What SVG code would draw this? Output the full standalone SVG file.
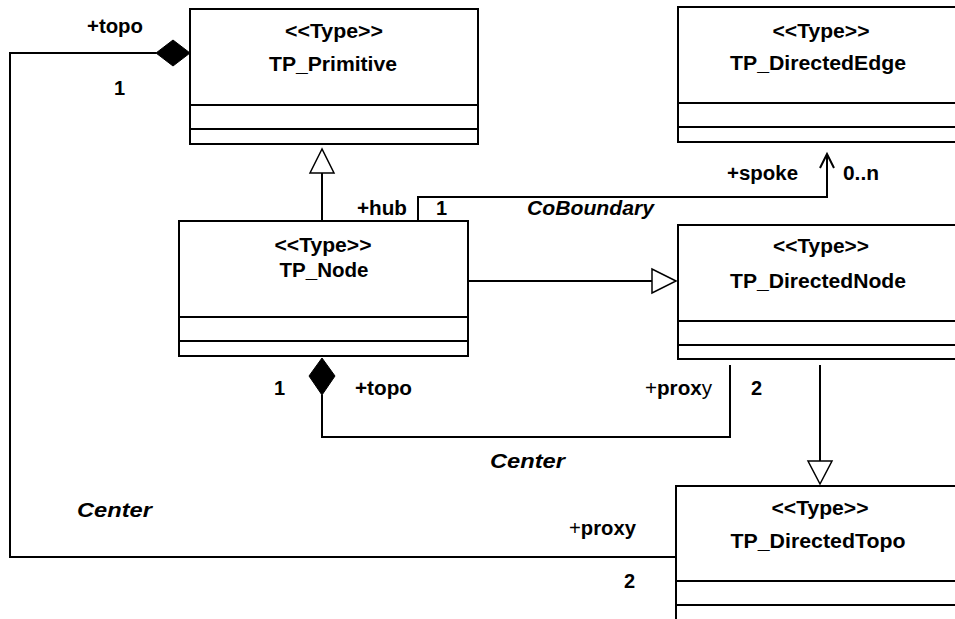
<svg xmlns="http://www.w3.org/2000/svg" width="955" height="619" viewBox="0 0 955 619">
<style>
  .box { fill: #ffffff; stroke: #000000; stroke-width: 2; }
  .div { stroke: #000000; stroke-width: 2; }
  .ln { fill: none; stroke: #000000; stroke-width: 2; }
  .hollow { fill: #ffffff; stroke: #000000; stroke-width: 1.5; }
  .solid { fill: #000000; stroke: #000000; stroke-width: 1; }
  text { font-family: "Liberation Sans", Arial, sans-serif; font-size: 20px; fill: #000000; }
  .b { font-weight: bold; }
  .n { font-weight: normal; }
  .it { font-weight: bold; font-style: italic; font-size: 21px; }
  .c { text-anchor: middle; }
</style>
<rect width="955" height="619" fill="#ffffff"/>

<g id="connectors">
  <polyline class="ln" points="156,53 10,53 10,557 676,557"/>
  <polygon class="solid" points="190,53 173,40 156,53 173,66"/>
  <line class="ln" x1="322" y1="221" x2="322" y2="173"/>
  <polygon class="hollow" points="322,149 310,173 334,173"/>
  <polyline class="ln" points="418,221 418,197 827,197 827,155"/>
  <polyline class="ln" points="820,168 827,154 834,168"/>
  <line class="ln" x1="468" y1="281" x2="652" y2="281"/>
  <polygon class="hollow" points="676,281 652,269 652,293"/>
  <polygon class="solid" points="322,358 335,376 322,395 309,376"/>
  <polyline class="ln" points="322,395 322,437 730,437 730,365"/>
  <line class="ln" x1="820" y1="365" x2="820" y2="461"/>
  <polygon class="hollow" points="820,484 808,461 832,461"/>

  <text class="b" x="87" y="33" textLength="56" lengthAdjust="spacingAndGlyphs">+topo</text>
  <text class="b" x="114" y="95">1</text>
  <text class="b" x="727" y="180" textLength="71" lengthAdjust="spacingAndGlyphs">+spoke</text>
  <text class="b" x="843" y="180" textLength="36" lengthAdjust="spacingAndGlyphs">0..n</text>
  <text class="b" x="357" y="215" textLength="50" lengthAdjust="spacingAndGlyphs">+hub</text>
  <text class="b" x="436" y="215">1</text>
  <text class="it" x="527" y="215" textLength="127" lengthAdjust="spacingAndGlyphs">CoBoundary</text>
  <text x="645" y="395" textLength="67" lengthAdjust="spacingAndGlyphs"><tspan class="n">+</tspan><tspan class="b">prox</tspan><tspan class="n">y</tspan></text>
  <text class="b" x="751" y="395">2</text>
  <text class="b" x="274" y="395">1</text>
  <text class="b" x="355" y="395" textLength="57" lengthAdjust="spacingAndGlyphs">+topo</text>
  <text class="it" x="490" y="468" textLength="75" lengthAdjust="spacingAndGlyphs">Center</text>
  <text class="it" x="77" y="517" textLength="75" lengthAdjust="spacingAndGlyphs">Center</text>
  <text x="569" y="535" textLength="67" lengthAdjust="spacingAndGlyphs"><tspan class="n">+</tspan><tspan class="b">proxy</tspan></text>
  <text class="b" x="624" y="588">2</text>
</g>

<g id="TP_Primitive">
  <rect class="box" x="190" y="9" width="288" height="135"/>
  <line class="div" x1="190" y1="105" x2="478" y2="105"/>
  <line class="div" x1="190" y1="129" x2="478" y2="129"/>
  <text class="b c" x="334" y="38" textLength="98" lengthAdjust="spacingAndGlyphs">&lt;&lt;Type&gt;&gt;</text>
  <text class="b c" x="333" y="71" textLength="128" lengthAdjust="spacingAndGlyphs">TP_Primitive</text>
</g>

<g id="TP_DirectedEdge">
  <rect class="box" x="678" y="7" width="300" height="135"/>
  <line class="div" x1="678" y1="103" x2="978" y2="103"/>
  <line class="div" x1="678" y1="127" x2="978" y2="127"/>
  <text class="b c" x="821" y="38" textLength="97" lengthAdjust="spacingAndGlyphs">&lt;&lt;Type&gt;&gt;</text>
  <text class="b c" x="818" y="70" textLength="176" lengthAdjust="spacingAndGlyphs">TP_DirectedEdge</text>
</g>

<g id="TP_Node">
  <rect class="box" x="179" y="221" width="289" height="135"/>
  <line class="div" x1="179" y1="317" x2="468" y2="317"/>
  <line class="div" x1="179" y1="341" x2="468" y2="341"/>
  <text class="b c" x="323" y="252" textLength="97" lengthAdjust="spacingAndGlyphs">&lt;&lt;Type&gt;&gt;</text>
  <text class="b c" x="324" y="277" textLength="89" lengthAdjust="spacingAndGlyphs">TP_Node</text>
</g>

<g id="TP_DirectedNode">
  <rect class="box" x="678" y="225" width="300" height="134"/>
  <line class="div" x1="678" y1="321" x2="978" y2="321"/>
  <line class="div" x1="678" y1="345" x2="978" y2="345"/>
  <text class="b c" x="821" y="253" textLength="96" lengthAdjust="spacingAndGlyphs">&lt;&lt;Type&gt;&gt;</text>
  <text class="b c" x="818" y="288" textLength="176" lengthAdjust="spacingAndGlyphs">TP_DirectedNode</text>
</g>

<g id="TP_DirectedTopo">
  <rect class="box" x="676" y="486" width="300" height="150"/>
  <line class="div" x1="676" y1="581" x2="976" y2="581"/>
  <line class="div" x1="676" y1="605" x2="976" y2="605"/>
  <text class="b c" x="820" y="515" textLength="97" lengthAdjust="spacingAndGlyphs">&lt;&lt;Type&gt;&gt;</text>
  <text class="b c" x="818" y="548" textLength="175" lengthAdjust="spacingAndGlyphs">TP_DirectedTopo</text>
</g>
</svg>
